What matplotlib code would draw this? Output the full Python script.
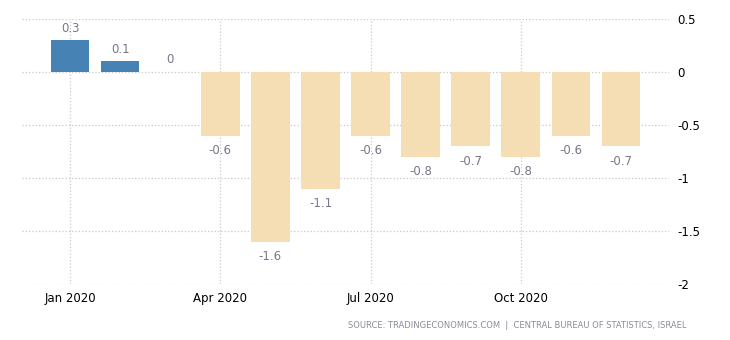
import numpy as np
import matplotlib.pyplot as plt

months = ["Jan", "Feb", "Mar", "Apr", "May", "Jun", "Jul", "Aug", "Sep", "Oct", "Nov", "Dec"]
values = [0.3, 0.1, 0, -0.6, -1.6, -1.1, -0.6, -0.8, -0.7, -0.8, -0.6, -0.7]
tick_idx = [0, 3, 6, 9]
tick_labels = ["Jan 2020", "Apr 2020", "Jul 2020", "Oct 2020"]
y_ticks = [0.5, 0, -0.5, -1, -1.5, -2]
y_labels = ["0.5", "0", "-0.5", "-1", "-1.5", "-2"]

fig = plt.figure(figsize=(7.3, 3.4), dpi=100)
ax = fig.add_axes([22 / 730, 1 - 284 / 340, (669 - 22) / 730, (284 - 19) / 340])

x = np.arange(len(values))
colors = ["#4682b4" if v > 0 else "#f5deb3" for v in values]
ax.bar(x, values, width=0.77, color=colors, zorder=2)

for i, v in enumerate(values):
    if v >= 0:
        ax.annotate(str(v), (i, v), xytext=(0, 4), textcoords="offset points",
                    ha="center", va="bottom", fontsize=8.5, color="#777788")
    else:
        ax.annotate(str(v), (i, v), xytext=(0, -6), textcoords="offset points",
                    ha="center", va="top", fontsize=8.5, color="#777788")

ax.set_xlim(-0.96, 11.96)
ax.set_ylim(-2, 0.5)
ax.set_xticks(tick_idx)
ax.set_xticklabels(tick_labels)
ax.set_yticks(y_ticks)
ax.set_yticklabels(y_labels)
ax.yaxis.tick_right()
ax.tick_params(length=0, labelsize=8.5, colors="black")
ax.tick_params(axis="y", pad=6)
ax.tick_params(axis="x", pad=6)
ax.grid(True, linestyle=":", color="#c8c8c8", linewidth=0.9, zorder=0)
ax.set_axisbelow(True)
for s in ax.spines.values():
    s.set_visible(False)

fig.text(687 / 730, 1 - 325 / 340, "SOURCE: TRADINGECONOMICS.COM  |  CENTRAL BUREAU OF STATISTICS, ISRAEL",
         ha="right", va="center", fontsize=6.0, color="#8a8aa0")

fig.savefig("out.png", dpi=100)
